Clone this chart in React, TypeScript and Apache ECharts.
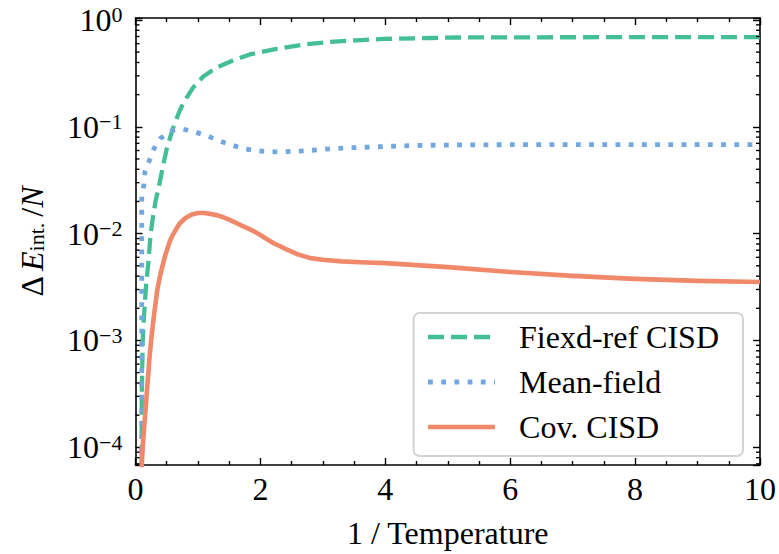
import { useEffect, useRef } from 'react';
import * as echarts from 'echarts';

const FONT = 'Liberation Serif';

// Fiexd-ref CISD (green dashed)
const fixedX = [0.1, 0.1, 0.115, 0.136, 0.168, 0.205, 0.243, 0.285, 0.32, 0.365, 0.41, 0.445, 0.5, 0.595, 0.71, 0.79, 0.925, 1.086, 1.3, 1.54, 1.83, 2.26, 2.69, 3.11, 3.54, 3.97, 4.72, 5.14, 6, 7, 8, 9, 10];
const fixedY = [1e-8, 3e-4, 9.8e-4, 1.7e-3, 3.2e-3, 5.3e-3, 0.01, 0.015, 0.02, 0.026, 0.035, 0.0445, 0.062, 0.095, 0.143, 0.177, 0.234, 0.296, 0.359, 0.413, 0.476, 0.537, 0.588, 0.622, 0.645, 0.664, 0.678, 0.685, 0.688, 0.689, 0.69, 0.69, 0.69];

// Mean-field (blue dotted)
const meanX = [0.1, 0.1, 0.136, 0.152, 0.22, 0.296, 0.4, 0.58, 0.765, 0.964, 1.15, 1.34, 1.52, 1.73, 1.93, 2.13, 2.34, 2.54, 2.74, 2.94, 3.14, 3.35, 3.75, 4.18, 4.58, 5.16, 6, 7, 8, 9, 10];
const meanY = [1e-8, 0.0224, 0.029, 0.038, 0.048, 0.0624, 0.078, 0.092, 0.095, 0.089, 0.082, 0.074, 0.068, 0.0624, 0.0598, 0.0582, 0.0582, 0.059, 0.0598, 0.061, 0.0624, 0.0634, 0.0646, 0.066, 0.067, 0.0676, 0.068, 0.068, 0.068, 0.068, 0.068];

// Cov. CISD (orange solid)
const covX = [0.1, 0.1, 0.12, 0.14, 0.16, 0.18, 0.2, 0.22, 0.25, 0.3, 0.35, 0.4, 0.47, 0.55, 0.6, 0.7, 0.8, 0.9, 1.0, 1.1, 1.2, 1.3, 1.4, 1.5, 1.6, 1.7, 1.8, 1.9, 2.0, 2.1, 2.2, 2.3, 2.4, 2.6, 2.8, 3.0, 3.3, 3.6, 4, 5, 6, 7, 8, 9, 10];
const covY = [1e-8, 7e-5, 1.1e-4, 1.6e-4, 2.2e-4, 3.2e-4, 4.5e-4, 6.5e-4, 1e-3, 1.8e-3, 3e-3, 4.2e-3, 6.1e-3, 8.5e-3, 0.0098, 0.0123, 0.014, 0.0151, 0.0156, 0.0156, 0.0153, 0.0149, 0.0143, 0.0135, 0.0127, 0.0119, 0.0112, 0.0105, 0.0097, 0.0089, 0.0082, 0.0077, 0.0072, 0.0064, 0.0059, 0.0057, 0.0055, 0.0054, 0.0053, 0.00486, 0.00437, 0.00402, 0.00377, 0.00361, 0.00353];

const seriesNames = ['Fiexd-ref CISD', 'Mean-field', 'Cov. CISD'];
const seriesColors = ['#44bf95', '#72a8df', '#f0886a'];

const xMin = 0;
const xMax = 10;
const xInterval = 2;
const yMin = 6.83e-5;
const yMax = 1.043;
const minorMultipliers = [2, 3, 4, 5, 6, 7, 8, 9];
const minorDecades = [-5, -4, -3, -2, -1];

const zip = (xs: number[], ys: number[]) => xs.map((x, i) => [x, ys[i]]);

export default function App() {
  const ref = useRef<HTMLDivElement>(null);
  useEffect(() => {
    if (!ref.current) return;
    const chart = echarts.init(ref.current, null, { renderer: 'svg' });

    const minorVals: number[][] = [];
    minorDecades.forEach((d) => {
      minorMultipliers.forEach((m) => {
        const v = m * Math.pow(10, d);
        if (v >= yMin && v <= yMax) minorVals.push([0, v]);
      });
    });

    const labelFmt = (v: number) => {
      const e = Math.log10(v);
      const r = Math.round(e);
      if (Math.abs(e - r) > 1e-6) return '';
      return r === 0 ? '{b|10}{s|0}' : `{b|10}{s|\u2212${-r}}`;
    };

    const axisLineStyle = { color: '#000', width: 1.6 };
    const tickStyle = { color: '#000', width: 1.4 };

    const commonX = {
      type: 'value' as const,
      min: xMin,
      max: xMax,
      interval: xInterval,
      splitLine: { show: false },
      axisLine: { show: true, onZero: false, lineStyle: axisLineStyle },
      axisTick: { show: true, inside: true, length: 7, lineStyle: tickStyle },
      minorTick: { show: true, splitNumber: 4, length: 4, lineStyle: tickStyle },
    };
    const commonY = {
      type: 'log' as const,
      logBase: 10,
      min: yMin,
      max: yMax,
      splitLine: { show: false },
      axisLine: { show: true, onZero: false, lineStyle: axisLineStyle },
      axisTick: { show: true, inside: true, length: 7, lineStyle: tickStyle },
    };

    const lineTypes: any[] = [[16, 7], [4.8, 8.4], 'solid'];
    const lineWidths = [4.3, 4.8, 4.6];
    const datas = [zip(fixedX, fixedY), zip(meanX, meanY), zip(covX, covY)];

    chart.setOption({
      animation: false,
      backgroundColor: '#fff',
      textStyle: { fontFamily: FONT },
      grid: { left: 135.5, right: 19, top: 18, bottom: 82, containLabel: false },
      legend: {
        data: seriesNames,
        orient: 'vertical',
        right: 36,
        bottom: 98,
        itemWidth: 67,
        itemHeight: 2,
        itemGap: 13,
        padding: [8, 24, 13, 12],
        backgroundColor: 'rgba(255,255,255,0.8)',
        borderColor: '#d4d4d4',
        borderWidth: 2,
        borderRadius: 6,
        itemStyle: { opacity: 0 },
        lineStyle: { width: 'inherit', type: 'inherit' },
        textStyle: { fontFamily: FONT, fontSize: 32, color: '#000', padding: [0, 0, 0, 19], lineHeight: 32 },
      },
      xAxis: [
        {
          ...commonX,
          position: 'bottom',
          name: '1 / Temperature',
          nameLocation: 'middle',
          nameGap: 52,
          nameTextStyle: { fontFamily: FONT, fontSize: 32, color: '#000' },
          axisLabel: { show: true, margin: 8, fontFamily: FONT, fontSize: 32, color: '#000' },
        },
        { ...commonX, position: 'top', axisLabel: { show: false } },
      ],
      yAxis: [
        {
          ...commonY,
          position: 'left',
          name: '{d|\u0394}{i|E}{s|int.}{n|/}{i|N}',
          nameLocation: 'middle',
          nameRotate: 90,
          nameGap: 88,
          nameTextStyle: {
            fontFamily: FONT,
            rich: {
              d: { fontFamily: FONT, fontSize: 32, lineHeight: 32, color: '#000', verticalAlign: 'top', padding: [0, 5, 0, 0] },
              n: { fontFamily: FONT, fontSize: 32, lineHeight: 32, color: '#000', verticalAlign: 'top' },
              i: { fontFamily: FONT, fontSize: 32, lineHeight: 32, color: '#000', fontStyle: 'italic', verticalAlign: 'top' },
              s: { fontFamily: FONT, fontSize: 22, lineHeight: 22, color: '#000', verticalAlign: 'bottom', padding: [14, 6, 0, 0] },
            },
          },
          axisLabel: {
            show: true,
            margin: 13,
            fontFamily: FONT,
            formatter: labelFmt,
            rich: {
              b: { fontFamily: FONT, fontSize: 32, lineHeight: 32, color: '#000' },
              s: { fontFamily: FONT, fontSize: 22, lineHeight: 22, color: '#000', verticalAlign: 'top' },
            },
          },
        },
        { ...commonY, position: 'right', axisLabel: { show: false } },
      ],
      series: [
        ...seriesNames.map((name, i) => ({
          type: 'line',
          name,
          xAxisIndex: 0,
          yAxisIndex: 0,
          data: datas[i],
          symbol: 'none',
          showSymbol: false,
          clip: true,
          z: 2 + i,
          color: seriesColors[i],
          itemStyle: { color: seriesColors[i] },
          lineStyle: { color: seriesColors[i], width: lineWidths[i], type: lineTypes[i], cap: 'butt', join: 'round' },
        })),
        {
          type: 'custom',
          name: 'minor-y-ticks',
          xAxisIndex: 0,
          yAxisIndex: 0,
          silent: true,
          clip: false,
          z: 10,
          data: minorVals,
          renderItem: (_params: any, api: any) => {
            const v = api.value(1);
            const l = api.coord([xMin, v]);
            const r = api.coord([xMax, v]);
            return {
              type: 'group',
              children: [
                { type: 'line', shape: { x1: l[0], y1: l[1], x2: l[0] + 4, y2: l[1] }, style: { stroke: '#000', lineWidth: 1.4 } },
                { type: 'line', shape: { x1: r[0] - 4, y1: r[1], x2: r[0], y2: r[1] }, style: { stroke: '#000', lineWidth: 1.4 } },
              ],
            };
          },
        },
      ],
    });

    return () => chart.dispose();
  }, []);
  return <div ref={ref} style={{ position: 'fixed', left: 0, top: 0, width: 779, height: 554, background: '#fff' }} />;
}
